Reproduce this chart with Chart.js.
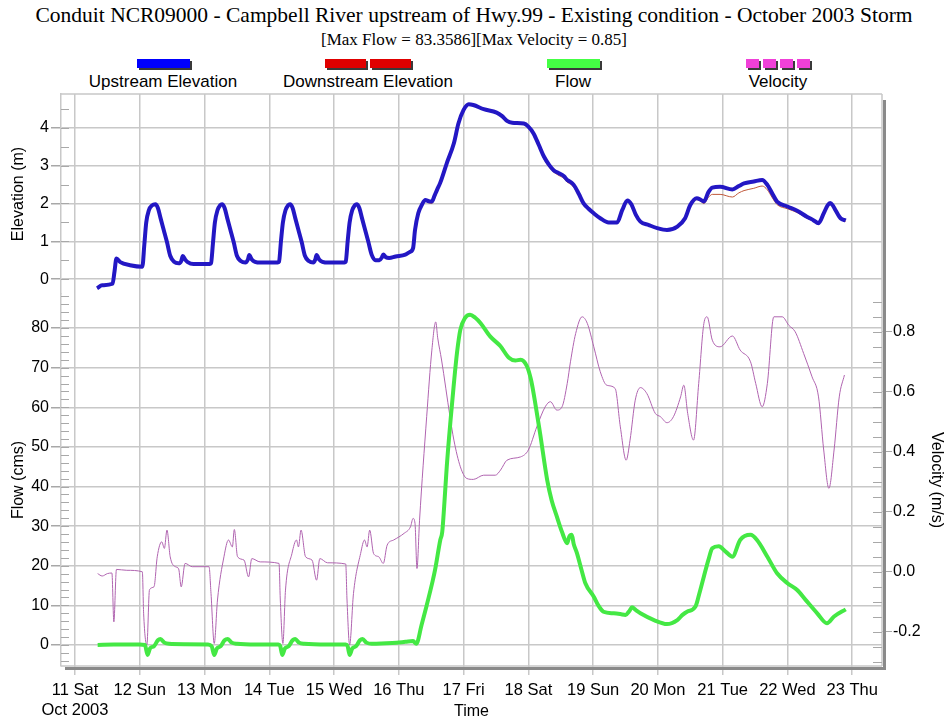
<!DOCTYPE html>
<html>
<head>
<meta charset="utf-8">
<title>Conduit NCR09000 - October 2003 Storm</title>
<script src="https://cdn.jsdelivr.net/npm/chart.js@4.4.1/dist/chart.umd.min.js"></script>
<style>
  body { margin: 0; background: #fff; }
  #wrap { position: relative; width: 948px; height: 721px; overflow: hidden; font-family: 'Liberation Sans', Arial, sans-serif; color: #000; }
  #title { position: absolute; top: 3px; left: 0; width: 948px; text-align: center; font: 21.5px/24px 'Liberation Serif', 'Times New Roman', serif; }
  #subtitle { position: absolute; top: 31px; left: 0; width: 948px; text-align: center; font: 17px/18px 'Liberation Serif', 'Times New Roman', serif; }
  .item { position: absolute; top: 59px; width: 220px; text-align: center; font-size: 17px; line-height: 19px; }
  .swatch { display: flex; justify-content: center; gap: 4px; height: 9px; margin-bottom: 4px; }
  .swatch span { display: block; height: 9px; box-shadow: 2px 2px 0 #3a3a3a; }
  canvas { position: absolute; left: 0; }
</style>
</head>
<body>
<div id="wrap">
  <div id="title">Conduit NCR09000 - Campbell River upstream of Hwy.99 - Existing condition - October 2003 Storm</div>
  <div id="subtitle"></div>
  <div id="legend"></div>
  <canvas id="elevChart" width="948" height="216" style="top:84px"></canvas>
  <canvas id="flowChart" width="948" height="437" style="top:284px"></canvas>
</div>
<script>
// time axis is in days from 11 Oct 2003 00:00
const dayLabels = ['11 Sat', '12 Sun', '13 Mon', '14 Tue', '15 Wed', '16 Thu', '17 Fri',
                   '18 Sat', '19 Sun', '20 Mon', '21 Tue', '22 Wed', '23 Thu'];
const monthLabel = 'Oct 2003';
const dayTicks = [0, 1, 2, 3, 4, 5, 6, 7, 8, 9, 10, 11, 12];
const elevTicks = [0, 1, 2, 3, 4];
const flowTicks = [0, 10, 20, 30, 40, 50, 60, 70, 80];
const velTicks = [-0.2, 0, 0.2, 0.4, 0.6, 0.8];
const seriesNames = ['Upstream Elevation', 'Downstream Elevation', 'Flow', 'Velocity'];

const elevTime = [
  0.34, 0.42, 0.58, 0.61, 0.64, 0.70, 0.85, 1.04,
  1.07, 1.10, 1.14, 1.19, 1.24, 1.28, 1.32, 1.37, 1.42, 1.47, 1.53, 1.60, 1.64, 1.665, 1.70, 1.74, 1.83, 2.08,
  2.10, 2.13, 2.16, 2.20, 2.24, 2.27, 2.31, 2.35, 2.40, 2.45, 2.50, 2.56, 2.63, 2.67, 2.69, 2.73, 2.78, 2.87, 3.13,
  3.15, 3.18, 3.21, 3.25, 3.29, 3.32, 3.36, 3.40, 3.45, 3.50, 3.55, 3.61, 3.68, 3.71, 3.73, 3.77, 3.82, 3.92, 4.16,
  4.18, 4.21, 4.24, 4.28, 4.32, 4.35, 4.39, 4.43, 4.48, 4.53, 4.58, 4.64, 4.70, 4.74, 4.76, 4.80, 4.85, 4.95, 5.10, 5.17, 5.22,
  5.25, 5.30, 5.36, 5.41, 5.46, 5.51, 5.55, 5.59, 5.64, 5.74,
  5.85, 5.92, 6.00, 6.08, 6.15, 6.31, 6.51, 6.60, 6.67, 6.75,
  6.93, 7.00, 7.08, 7.16, 7.24, 7.32, 7.39, 7.47, 7.55, 7.60,
  7.64, 7.70, 7.78, 7.85, 7.93, 8.01, 8.11, 8.24, 8.37, 8.45,
  8.53, 8.59, 8.66, 8.73, 8.86, 8.99, 9.14, 9.30, 9.42, 9.50,
  9.60, 9.66, 9.71, 9.78, 9.84, 9.96, 10.15, 10.25, 10.33, 10.48,
  10.61, 10.69, 10.77, 10.84, 11.00, 11.15, 11.30, 11.40, 11.48, 11.56,
  11.62, 11.66, 11.70, 11.74, 11.82, 11.90
];
const upstreamElev = [
  -0.24, -0.16, -0.12, 0.20, 0.55, 0.45, 0.37, 0.33,
  0.90, 1.50, 1.82, 1.95, 1.98, 1.88, 1.62, 1.30, 0.98, 0.62, 0.46, 0.42, 0.48, 0.61, 0.52, 0.45, 0.40, 0.40,
  0.42, 0.95, 1.50, 1.82, 1.95, 1.98, 1.88, 1.62, 1.30, 0.98, 0.62, 0.48, 0.44, 0.52, 0.64, 0.52, 0.46, 0.44, 0.44,
  0.46, 1.00, 1.50, 1.82, 1.95, 1.98, 1.88, 1.62, 1.30, 0.98, 0.62, 0.48, 0.44, 0.52, 0.64, 0.52, 0.46, 0.44, 0.44,
  0.46, 1.00, 1.50, 1.82, 1.95, 1.98, 1.88, 1.62, 1.30, 0.98, 0.65, 0.50, 0.50, 0.58, 0.65, 0.58, 0.56, 0.60, 0.65, 0.72, 0.82,
  1.30, 1.74, 1.98, 2.09, 2.06, 2.05, 2.20, 2.36, 2.55, 3.06,
  3.59, 4.11, 4.47, 4.62, 4.60, 4.49, 4.40, 4.30, 4.18, 4.13,
  4.11, 4.03, 3.85, 3.55, 3.24, 3.02, 2.88, 2.80, 2.72, 2.62,
  2.58, 2.49, 2.25, 2.01, 1.86, 1.74, 1.61, 1.50, 1.50, 1.83,
  2.08, 1.98, 1.70, 1.52, 1.43, 1.35, 1.30, 1.39, 1.61, 1.96,
  2.14, 2.10, 2.05, 2.30, 2.42, 2.44, 2.37, 2.46, 2.53, 2.58,
  2.62, 2.49, 2.25, 2.05, 1.92, 1.81, 1.65, 1.56, 1.48, 1.74,
  1.95, 2.01, 1.95, 1.83, 1.61, 1.55
];
const downstreamElev = [
  -0.24, -0.16, -0.12, 0.20, 0.55, 0.45, 0.37, 0.33,
  0.90, 1.50, 1.82, 1.95, 1.98, 1.88, 1.62, 1.30, 0.98, 0.62, 0.46, 0.42, 0.48, 0.61, 0.52, 0.45, 0.40, 0.40,
  0.42, 0.95, 1.50, 1.82, 1.95, 1.98, 1.88, 1.62, 1.30, 0.98, 0.62, 0.48, 0.44, 0.52, 0.64, 0.52, 0.46, 0.44, 0.44,
  0.46, 1.00, 1.50, 1.82, 1.95, 1.98, 1.88, 1.62, 1.30, 0.98, 0.62, 0.48, 0.44, 0.52, 0.64, 0.52, 0.46, 0.44, 0.44,
  0.46, 1.00, 1.50, 1.82, 1.95, 1.98, 1.88, 1.62, 1.30, 0.98, 0.65, 0.50, 0.50, 0.58, 0.65, 0.58, 0.56, 0.60, 0.65, 0.72, 0.82,
  1.28, 1.72, 1.96, 2.06, 2.02, 2.00, 2.12, 2.30, 2.52, 3.04,
  3.58, 4.10, 4.46, 4.61, 4.59, 4.48, 4.39, 4.29, 4.17, 4.12,
  4.10, 4.01, 3.82, 3.50, 3.18, 2.96, 2.83, 2.74, 2.66, 2.56,
  2.52, 2.43, 2.19, 1.96, 1.82, 1.71, 1.59, 1.49, 1.49, 1.81,
  2.06, 1.96, 1.68, 1.51, 1.42, 1.34, 1.29, 1.37, 1.58, 1.92,
  2.10, 2.06, 2.00, 2.16, 2.24, 2.24, 2.17, 2.28, 2.34, 2.40,
  2.46, 2.36, 2.14, 1.97, 1.86, 1.76, 1.61, 1.53, 1.46, 1.71,
  1.92, 1.98, 1.93, 1.81, 1.59, 1.53
];

const flowTime = [
  0.35, 0.60, 1.00, 1.08, 1.12, 1.16, 1.22, 1.28, 1.32, 1.38, 1.45, 1.70,
  2.05, 2.11, 2.15, 2.19, 2.25, 2.31, 2.36, 2.42, 2.50, 2.80,
  3.14, 3.17, 3.20, 3.24, 3.30, 3.36, 3.40, 3.46, 3.54, 3.90,
  4.18, 4.21, 4.24, 4.28, 4.34, 4.40, 4.44, 4.50, 4.58, 4.90, 5.10, 5.22, 5.27,
  5.35, 5.43, 5.52, 5.56, 5.64, 5.67, 5.70, 5.74, 5.80, 5.85, 5.90, 5.95,
  6.02, 6.10, 6.18, 6.26, 6.41, 6.57, 6.70, 6.80, 6.88, 6.98,
  7.04, 7.08, 7.18, 7.29, 7.36, 7.44, 7.52, 7.60, 7.63, 7.67, 7.70, 7.75, 7.82, 7.88,
  8.01, 8.08, 8.16, 8.32, 8.42, 8.50, 8.56, 8.60, 8.66, 8.73, 8.94,
  9.14, 9.30, 9.38, 9.45, 9.58, 9.64, 9.71, 9.78, 9.84, 9.94,
  10.05, 10.15, 10.27, 10.43, 10.53, 10.69, 10.84,
  11.00, 11.15, 11.28, 11.46, 11.61, 11.72, 11.90
];
const flow = [
  0.0, 0.1, 0.1, 0.0, -2.5, -0.8, -0.3, 1.2, 1.5, 0.6, 0.3, 0.2,
  0.1, -0.3, -2.5, -0.9, -0.3, 1.2, 1.5, 0.6, 0.3, 0.1,
  0.1, -0.3, -2.5, -0.9, -0.3, 1.2, 1.5, 0.6, 0.3, 0.1,
  0.1, -0.3, -2.5, -0.9, -0.3, 1.2, 1.5, 0.6, 0.3, 0.5, 0.8, 1.0, 0.3,
  5.0, 10.0, 16.0, 19.0, 26.5, 28.5, 35.0, 45.0, 57.0, 66.0, 74.0, 79.6,
  82.5, 83.3586, 82.6, 81.3, 77.9, 75.4, 72.5, 71.8, 72.0, 70.3,
  67.0, 63.6, 53.5, 41.7, 36.5, 32.4, 28.5, 25.7, 27.3, 27.8, 25.5, 23.2, 19.0, 15.6,
  12.2, 10.0, 8.4, 8.0, 7.8, 7.6, 8.6, 9.5, 8.8, 8.0, 6.3,
  5.3, 6.3, 7.6, 8.4, 9.7, 13.0, 17.3, 21.5, 24.4, 24.9,
  23.5, 22.3, 26.5, 27.8, 26.5, 22.3, 18.1,
  15.6, 13.9, 11.4, 8.0, 5.5, 7.2, 9.0
];

const velTime = [
  0.35, 0.42, 0.50, 0.57, 0.60, 0.64, 0.80,
  1.04, 1.06, 1.11, 1.15, 1.22, 1.27, 1.34, 1.38, 1.42, 1.47, 1.55, 1.60, 1.64, 1.70, 1.81,
  2.07, 2.10, 2.15, 2.20, 2.30, 2.37, 2.43, 2.46, 2.51, 2.61, 2.68, 2.73, 2.86,
  3.15, 3.17, 3.21, 3.25, 3.35, 3.42, 3.45, 3.49, 3.56, 3.66, 3.73, 3.78, 3.90,
  4.18, 4.20, 4.24, 4.30, 4.41, 4.47, 4.51, 4.55, 4.61, 4.69, 4.76, 4.82, 4.92,
  5.08, 5.18, 5.22, 5.25, 5.28, 5.32, 5.43, 5.51, 5.57, 5.60, 5.66, 5.79, 5.85, 5.95,
  6.05, 6.15, 6.31, 6.49, 6.57, 6.67, 6.88,
  7.00, 7.13, 7.26, 7.34, 7.44, 7.52, 7.60, 7.65, 7.73, 7.83, 7.91,
  8.01, 8.11, 8.21, 8.34, 8.42, 8.51, 8.57, 8.65, 8.73, 8.83, 8.96,
  9.04, 9.14, 9.24, 9.35, 9.40, 9.46, 9.55, 9.63, 9.71, 9.76, 9.84, 9.96,
  10.15, 10.27, 10.43, 10.51, 10.61, 10.69, 10.79, 10.92,
  11.02, 11.12, 11.25, 11.38, 11.48, 11.56, 11.64, 11.72, 11.80, 11.88
];
const velocity = [
  -0.006, -0.014, -0.006, -0.004, -0.167, 0.008, 0.005,
  0.000, -0.140, -0.244, -0.060, -0.050, 0.050, 0.100, 0.078, 0.139, 0.050, 0.017, 0.010, -0.050, 0.028, 0.017,
  0.017, -0.072, -0.239, -0.094, 0.050, 0.106, 0.083, 0.141, 0.050, 0.039, -0.017, 0.044, 0.033,
  0.028, -0.094, -0.239, -0.061, 0.061, 0.106, 0.083, 0.139, 0.050, 0.039, -0.028, 0.044, 0.030,
  0.026, -0.094, -0.244, -0.072, 0.061, 0.106, 0.083, 0.139, 0.061, 0.050, 0.028, 0.089, 0.106,
  0.128, 0.150, 0.178, 0.161, 0.011, 0.172, 0.517, 0.739, 0.833, 0.780, 0.706, 0.517, 0.439, 0.350,
  0.311, 0.308, 0.322, 0.322, 0.339, 0.372, 0.383,
  0.406, 0.483, 0.550, 0.567, 0.539, 0.550, 0.628, 0.700, 0.794, 0.850, 0.828,
  0.750, 0.667, 0.622, 0.611, 0.483, 0.372, 0.439, 0.572, 0.614, 0.594, 0.528,
  0.517, 0.497, 0.517, 0.583, 0.622, 0.528, 0.439, 0.628, 0.828, 0.850, 0.772, 0.750,
  0.786, 0.739, 0.700, 0.628, 0.550, 0.628, 0.850, 0.850,
  0.822, 0.800, 0.728, 0.650, 0.583, 0.406, 0.278, 0.406, 0.583, 0.656
];

// ---- header: subtitle and legend ----
document.getElementById('subtitle').textContent =
  '[Max Flow = ' + Math.max(...flow) + '][Max Velocity = ' + Math.max(...velocity) + ']';

const legendSwatches = [
  [[53, '#0000ff']],
  [[41, '#e00000'], [41, '#e00000']],
  [[53, '#44ff44']],
  [[13, '#f040d8'], [13, '#f040d8'], [13, '#f040d8'], [13, '#f040d8']]
];
const legendCenters = [163, 368, 573, 778];
const legendEl = document.getElementById('legend');
seriesNames.forEach((name, i) => {
  const item = document.createElement('div');
  item.className = 'item';
  item.style.left = (legendCenters[i] - 110) + 'px';
  const sw = document.createElement('div');
  sw.className = 'swatch';
  legendSwatches[i].forEach(([w, c]) => {
    const s = document.createElement('span');
    s.style.width = w + 'px';
    s.style.background = c;
    sw.appendChild(s);
  });
  const label = document.createElement('div');
  label.textContent = name;
  item.appendChild(sw);
  item.appendChild(label);
  legendEl.appendChild(item);
});

// ---- charts ----
Chart.defaults.font.family = "'Liberation Sans', Arial, sans-serif";
Chart.defaults.font.size = 16;
Chart.defaults.color = '#000';
Chart.defaults.animation = false;

const GRID = '#c8c8c8';
const TICK = '#a8a8a8';
const X_MIN = -0.216;
const X_MAX = 12.46;

const pts = (xs, ys) => xs.map((x, i) => ({ x: x, y: ys[i] }));
const setTicks = values => scale => { scale.ticks = values.map(v => ({ value: v })); };
const fixWidth = w => scale => { scale.width = w; scale.paddingTop = 0; scale.paddingBottom = 0; };
const fixHeight = h => scale => { scale.height = h; scale.paddingLeft = 0; scale.paddingRight = 0; };

// short inward tick marks between the labelled ones
const minorTicks = {
  id: 'minorTicks',
  beforeDatasetsDraw(chart, args, opts) {
    const { ctx, chartArea } = chart;
    ctx.save();
    ctx.strokeStyle = TICK;
    ctx.lineWidth = 1;
    ctx.beginPath();
    for (const m of opts.marks) {
      const s = chart.scales[m.axis];
      const x0 = m.side === 'left' ? chartArea.left : chartArea.right;
      const x1 = m.side === 'left' ? x0 + m.length : x0 - m.length;
      for (let k = Math.ceil(s.min / m.step); k <= Math.floor(s.max / m.step); k++) {
        const y = Math.round(s.getPixelForValue(k * m.step)) + 0.5;
        ctx.moveTo(x0, y);
        ctx.lineTo(x1, y);
      }
    }
    ctx.stroke();
    ctx.restore();
  }
};

// light frame with the dark drop shadow on the right and bottom
const panelFrame = {
  id: 'panelFrame',
  beforeDatasetsDraw(chart, args, opts) {
    const { ctx, chartArea: a } = chart;
    ctx.save();
    ctx.strokeStyle = GRID;
    ctx.lineWidth = 1.5;
    ctx.beginPath();
    if (opts.top) { ctx.moveTo(a.left, a.top); ctx.lineTo(a.right, a.top); }
    ctx.moveTo(a.right, a.top);
    ctx.lineTo(a.right, a.bottom);
    if (opts.bottom) { ctx.moveTo(a.left, a.bottom); ctx.lineTo(a.right, a.bottom); }
    ctx.stroke();
    ctx.fillStyle = '#8a8a8a';
    const y0 = opts.top ? a.top + 6 : a.top;
    const y1 = opts.bottom ? a.bottom + 4 : a.bottom;
    ctx.fillRect(a.right + 1, y0, 3, y1 - y0);
    if (opts.bottom) ctx.fillRect(a.left + 4, a.bottom + 1, a.right - a.left, 3);
    ctx.restore();
  }
};

const common = {
  responsive: false,
  animation: false,
  elements: { point: { radius: 0 }, line: { cubicInterpolationMode: 'monotone' } },
};

new Chart(document.getElementById('elevChart'), {
  type: 'line',
  data: {
    datasets: [
      { label: seriesNames[0], data: pts(elevTime, upstreamElev), borderColor: '#2317c4', borderWidth: 4 },
      { label: seriesNames[1], data: pts(elevTime, downstreamElev), borderColor: '#c0583a', borderWidth: 1 }
    ]
  },
  options: {
    ...common,
    layout: { padding: { top: 10, bottom: 6, left: 0, right: 66 } },
    plugins: {
      legend: { display: false },
      tooltip: { enabled: false },
      panelFrame: { top: true, bottom: false },
      minorTicks: { marks: [{ axis: 'y', step: 0.5, side: 'left', length: 8 }] }
    },
    scales: {
      x: {
        type: 'linear', min: X_MIN, max: X_MAX,
        afterBuildTicks: setTicks(dayTicks),
        afterFit: fixHeight(0),
        ticks: { display: false },
        grid: { color: GRID, lineWidth: 1.5, drawTicks: false },
        border: { display: false }
      },
      y: {
        min: -0.39, max: 4.89,
        afterBuildTicks: setTicks(elevTicks),
        afterFit: fixWidth(61),
        ticks: { padding: 2 },
        grid: { color: GRID, lineWidth: 1.5, tickLength: 10, tickColor: TICK },
        border: { color: GRID, width: 1.5 },
        title: { display: true, text: 'Elevation (m)', padding: { top: 9.4, bottom: 0 } }
      }
    }
  },
  plugins: [panelFrame, minorTicks]
});

new Chart(document.getElementById('flowChart'), {
  type: 'line',
  data: {
    datasets: [
      { label: seriesNames[2], data: pts(flowTime, flow), borderColor: '#44e844', borderWidth: 4, yAxisID: 'y' },
      { label: seriesNames[3], data: pts(velTime, velocity), borderColor: '#b064b0', borderWidth: 1, yAxisID: 'y2' }
    ]
  },
  options: {
    ...common,
    layout: { padding: { top: 10, bottom: 0, left: 0, right: 0 } },
    plugins: {
      legend: { display: false },
      tooltip: { enabled: false },
      panelFrame: { top: false, bottom: true },
      minorTicks: {
        marks: [
          { axis: 'y', step: 2, side: 'left', length: 8 },
          { axis: 'y2', step: 0.05, side: 'right', length: 9 }
        ]
      }
    },
    scales: {
      x: {
        type: 'linear', min: X_MIN, max: X_MAX,
        afterBuildTicks: setTicks(dayTicks),
        afterFit: fixHeight(55),
        ticks: {
          padding: 6, maxRotation: 0, autoSkip: false,
          font: { size: 16.5 },
          callback: v => v === 0 ? [dayLabels[0], monthLabel] : dayLabels[Math.round(v)]
        },
        grid: { color: GRID, lineWidth: 1.5, tickLength: 9, tickColor: GRID },
        border: { display: false },
        title: { display: true, text: 'Time', padding: { top: 0, bottom: 0 } }
      },
      y: {
        position: 'left',
        min: -5.3, max: 88.6,
        afterBuildTicks: setTicks(flowTicks),
        afterFit: fixWidth(61),
        ticks: { padding: 2 },
        grid: { color: GRID, lineWidth: 1.5, tickLength: 10, tickColor: TICK },
        border: { color: GRID, width: 1.5 },
        title: { display: true, text: 'Flow (cms)', padding: { top: 9.4, bottom: 0 } }
      },
      y2: {
        position: 'right',
        min: -0.314, max: 0.926,
        afterBuildTicks: setTicks(velTicks),
        afterFit: fixWidth(66),
        ticks: { padding: 1, callback: v => v.toFixed(1) },
        grid: { drawOnChartArea: false, tickLength: 10, tickColor: TICK },
        border: { display: false },
        title: { display: true, text: 'Velocity (m/s)', padding: { top: 2.4, bottom: 0 } }
      }
    }
  },
  plugins: [panelFrame, minorTicks]
});
</script>
</body>
</html>
